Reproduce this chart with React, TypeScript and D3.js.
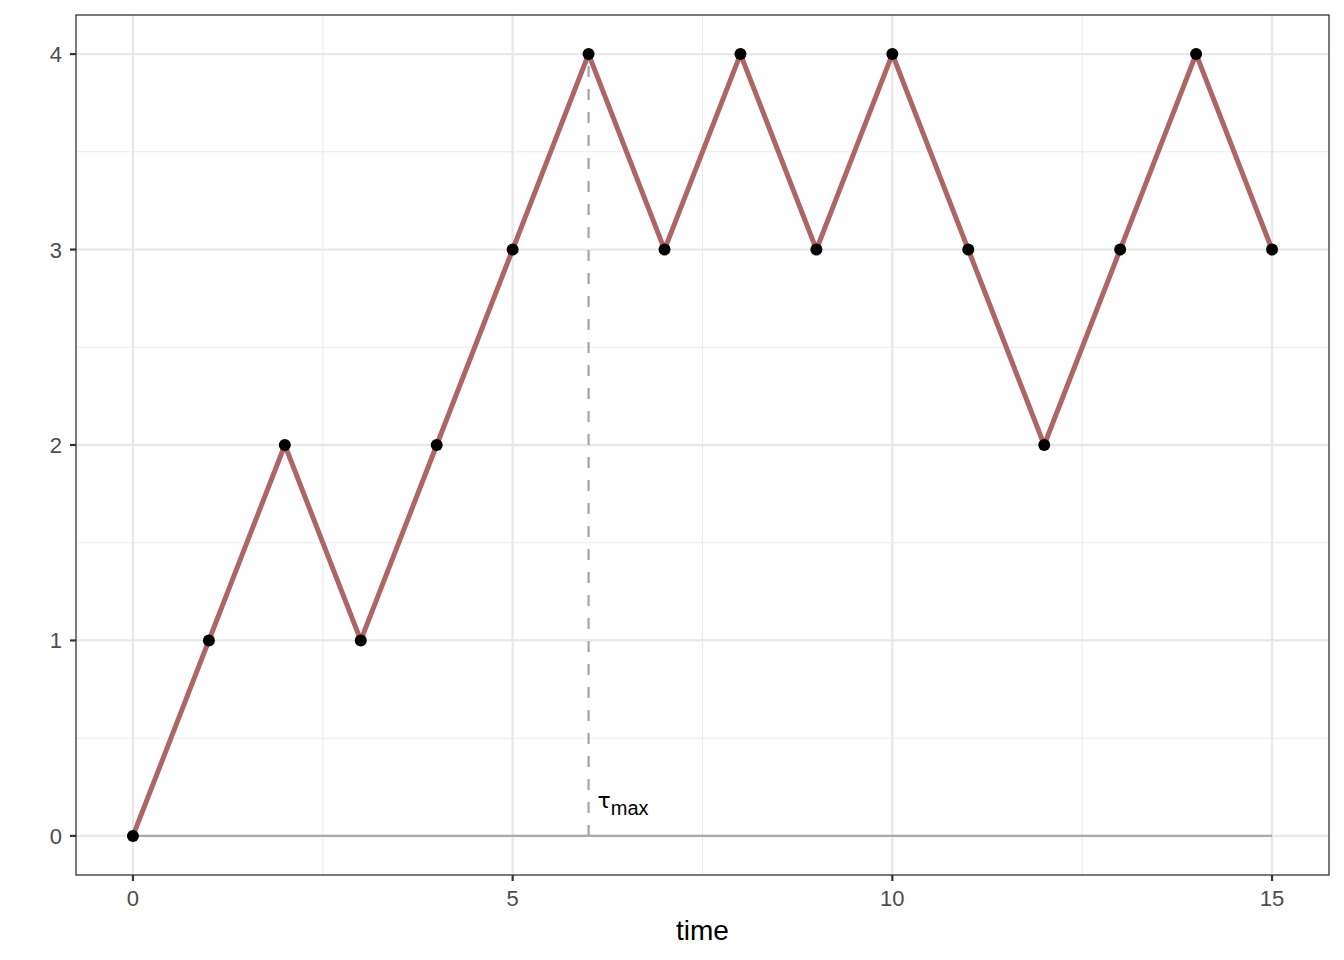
import React from "react";
import * as d3 from "d3";

const times = [0, 1, 2, 3, 4, 5, 6, 7, 8, 9, 10, 11, 12, 13, 14, 15];
const values = [0, 1, 2, 1, 2, 3, 4, 3, 4, 3, 4, 3, 2, 3, 4, 3];
const xTicks = [0, 5, 10, 15];
const xMinor = [2.5, 7.5, 12.5];
const yTicks = [0, 1, 2, 3, 4];
const yMinor = [0.5, 1.5, 2.5, 3.5];
const tauMax = 6;

const W = 1344, H = 960;
const L = 76, R = 1329, T = 15, B = 875;

export default function App() {
  const x = d3.scaleLinear().domain([-0.75, 15.75]).range([L, R]);
  const y = d3.scaleLinear().domain([-0.2, 4.2]).range([B, T]);
  const line = d3.line<number>().x((_, i) => x(times[i])).y((d) => y(d));
  const font = "Liberation Sans, Arial, sans-serif";
  return (
    <svg width={W} height={H} style={{ position: "absolute", left: 0, top: 0 }} fontFamily={font}>
      <rect x={0} y={0} width={W} height={H} fill="white" />
      {xMinor.map((v) => (
        <line key={"xm" + v} x1={x(v)} x2={x(v)} y1={T} y2={B} stroke="#ebebeb" strokeWidth={1.1} />
      ))}
      {yMinor.map((v) => (
        <line key={"ym" + v} x1={L} x2={R} y1={y(v)} y2={y(v)} stroke="#ebebeb" strokeWidth={1.1} />
      ))}
      {xTicks.map((v) => (
        <line key={"xM" + v} x1={x(v)} x2={x(v)} y1={T} y2={B} stroke="#e8e8e8" strokeWidth={2.3} />
      ))}
      {yTicks.map((v) => (
        <line key={"yM" + v} x1={L} x2={R} y1={y(v)} y2={y(v)} stroke="#e8e8e8" strokeWidth={2.3} />
      ))}
      <line x1={x(0)} x2={x(15)} y1={y(0)} y2={y(0)} stroke="#aaaaaa" strokeWidth={2.3} />
      <line x1={x(tauMax)} x2={x(tauMax)} y1={y(0)} y2={y(4)} stroke="#a8a8a8" strokeWidth={2.3} strokeDasharray="11,12" />
      <path d={line(values) || ""} fill="none" stroke="#ae6565" strokeWidth={5} strokeLinejoin="round" />
      {values.map((v, i) => (
        <circle key={i} cx={x(times[i])} cy={y(v)} r={6} fill="black" />
      ))}
      <text x={x(tauMax) + 9} y={808} fontSize={22} fill="black">
        <tspan fontFamily="DejaVu Sans">τ</tspan>
        <tspan fontSize={20} dy={7}>max</tspan>
      </text>
      <rect x={L} y={T} width={R - L} height={B - T} fill="none" stroke="#333333" strokeWidth={1.3} />
      {xTicks.map((v) => (
        <g key={"xt" + v}>
          <line x1={x(v)} x2={x(v)} y1={B} y2={B + 6} stroke="#333333" strokeWidth={2.2} />
          <text x={x(v)} y={B + 31} textAnchor="middle" fontSize={22} fill="#4d4d4d">{v}</text>
        </g>
      ))}
      {yTicks.map((v) => (
        <g key={"yt" + v}>
          <line x1={L - 6} x2={L} y1={y(v)} y2={y(v)} stroke="#333333" strokeWidth={2.2} />
          <text x={L - 14} y={y(v) + 8} textAnchor="end" fontSize={22} fill="#4d4d4d">{v}</text>
        </g>
      ))}
      <text x={(L + R) / 2} y={940} textAnchor="middle" fontSize={28} fill="black">time</text>
    </svg>
  );
}
